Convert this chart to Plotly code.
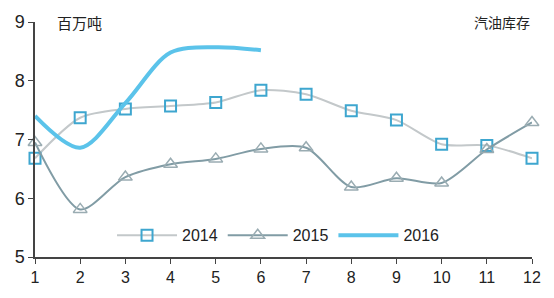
import plotly.graph_objects as go

months = list(range(1, 13))
y2014 = [6.68, 7.37, 7.52, 7.57, 7.63, 7.84, 7.77, 7.49, 7.33, 6.92, 6.90, 6.68]
y2015 = [6.95, 5.81, 6.36, 6.58, 6.67, 6.84, 6.86, 6.19, 6.34, 6.26, 6.83, 7.29]
months2016 = [1, 2, 3, 4, 5, 6]
y2016 = [7.40, 6.86, 7.62, 8.48, 8.57, 8.52]
y_ticks = [5, 6, 7, 8, 9]

fig = go.Figure()
fig.add_trace(go.Scatter(
    x=months, y=y2014, name="2014", mode="lines+markers",
    line=dict(color="#c3c8ca", width=2, shape="spline", smoothing=0.8),
    marker=dict(symbol="square-open", size=11, color="#3ea6cf", line=dict(width=2, color="#3ea6cf")),
    cliponaxis=False,
))
fig.add_trace(go.Scatter(
    x=months, y=y2015, name="2015", mode="lines+markers",
    line=dict(color="#819ca5", width=2, shape="spline", smoothing=0.8),
    marker=dict(symbol="triangle-up-open", size=12, color="#9aacb2", line=dict(width=1.5, color="#9aacb2")),
    cliponaxis=False,
))
fig.add_trace(go.Scatter(
    x=months2016, y=y2016, name="2016", mode="lines",
    line=dict(color="#5bc3ea", width=4, shape="spline", smoothing=0.9),
    cliponaxis=False,
))

fig.update_layout(
    width=554, height=298,
    margin=dict(l=35, r=22, t=16, b=36),
    plot_bgcolor="white", paper_bgcolor="white",
    font=dict(family="Liberation Sans, Arial", size=16, color="#222"),
    showlegend=True,
    legend=dict(orientation="h", x=0.49, xanchor="center", y=0.02, yanchor="bottom",
                font=dict(size=16), bgcolor="rgba(0,0,0,0)", itemwidth=60, tracegroupgap=0),
    annotations=[
        dict(text="百万吨", x=0.04, y=1.0, xref="paper", yref="paper", xanchor="left", yanchor="middle",
             showarrow=False, font=dict(family="Noto Sans CJK SC", size=15, color="#222")),
        dict(text="汽油库存", x=1.0, y=1.0, xref="paper", yref="paper", xanchor="right", yanchor="middle",
             showarrow=False, font=dict(family="Noto Sans CJK SC", size=14, color="#222")),
    ],
)
fig.update_xaxes(range=[1, 12], tickvals=months, ticks="outside", ticklen=5, tickcolor="#444",
                 showline=True, linecolor="#444", linewidth=1.5, showgrid=False, zeroline=False,
                 tickfont=dict(size=16))
fig.update_yaxes(range=[5, 9], tickvals=y_ticks, ticks="outside", ticklen=5, tickcolor="#444",
                 showline=True, linecolor="#444", linewidth=1.5, showgrid=False, zeroline=False,
                 tickfont=dict(size=18))

fig.write_html("out.html")
